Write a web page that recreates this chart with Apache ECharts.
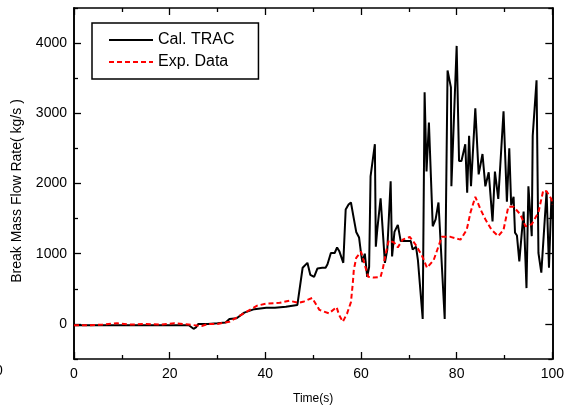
<!DOCTYPE html>
<html><head><meta charset="utf-8">
<script src="https://cdn.jsdelivr.net/npm/echarts@6/dist/echarts.min.js"></script>
<style>html,body{margin:0;padding:0;background:#fff}#c{width:567px;height:412px}</style>
</head><body><div id="c"></div>
<script>
const tracTime = [0,2,4,6,8,10,12,14,16,18,20,22,24,25,25.5,26,28,30,31.7,32.5,34,35.6,37.7,40.2,42,44.3,46.7,47.1,47.8,48.8,49.4,50.2,50.9,51.9,52.6,53,53.7,54.5,55,55.5,56.3,56.8,57.4,57.9,58.5,59,59.6,60,60.3,60.8,61.3,61.7,62,62.9,63.1,63.4,64.1,65,65.5,66.2,66.5,67,67.7,68.3,70.4,70.8,71.5,71.9,72.9,73.3,73.7,74.2,75,75.6,76.2,77.5,78.1,78.8,78.9,80,80.5,81,81.8,82.2,82.6,83,83.9,84.6,85.4,86,86.7,87.5,88,88.7,89.8,90.5,91,91.4,91.9,92.2,92.6,93.1,94,94.6,95,95.7,95.9,96.7,97.1,97.7,98.8,99.3,99.8,100];
const tracValues = [-20,-20,-20,-20,-20,-20,-20,-20,-20,-20,-20,-20,-20,-70,-50,0,0,10,20,70,80,160,210,230,230,245,270,280,800,870,700,670,790,800,800,850,1010,1010,1090,1030,870,1630,1700,1730,1500,1310,1230,1010,880,1000,670,810,2100,2560,1100,1340,1790,870,1060,2030,960,1310,1410,1180,1180,1060,1100,910,70,3300,2170,2870,1390,1490,1730,70,3610,3370,1960,3960,2320,2320,2560,1870,2680,1960,3070,2130,2420,1960,2160,1460,2170,1780,3030,1740,2500,1690,1810,1300,1260,890,1600,510,1960,1250,2680,3470,1010,730,1890,800,1780,1500];
const expTime = [0,3,6,9,12,15,18,21,24,26.7,28,30,32.5,34,36,38.3,40.2,43,45,47,48.1,49.8,51.3,53.3,54.9,55.4,56.2,57.1,57.9,58.3,58.5,59,60,60.8,61.5,62.7,64.1,64.6,65.2,65.8,66.9,67.7,68.7,70.2,71.4,72.7,73.8,75.2,76.9,78.7,80.8,82.1,82.9,83.9,85,86,87.3,88.7,89.8,90.8,91.9,93.3,94.4,95.7,97.1,98.1,98.8,99.8,100];
const expValues = [-20,-20,-10,10,-10,0,-10,10,-10,-30,0,0,30,90,170,260,290,300,330,300,320,370,200,150,240,130,30,150,310,590,770,940,1030,840,670,660,670,800,1010,1190,1160,1090,1200,1240,1130,980,800,910,1240,1240,1200,1340,1590,1810,1630,1490,1340,1250,1340,1670,1670,1560,1390,1420,1590,1900,1890,1780,1700];
const xTicks = {min:0, max:100, interval:20};
const yMajorTicks = [0,1000,2000,3000,4000];
const yMinorTicks = [-500,500,1500,2500,3500,4500];
const seriesNames = ['Cal. TRAC','Exp. Data'];
const xName = 'Time(s)';
const yName = 'Break Mass Flow Rate( kg/s )';

const FONT = "'Liberation Sans', Arial, sans-serif";
const chart = echarts.init(document.getElementById('c'), null, {renderer:'canvas'});
const axLine = {show:true, onZero:false, lineStyle:{color:'#000', width:1.6}};
function xAx(pos, labels){
  return {type:'value', position:pos, min:xTicks.min, max:xTicks.max, interval:xTicks.interval,
    axisLine:axLine, splitLine:{show:false},
    axisTick:{show:true, inside:true, length:7, lineStyle:{color:'#000', width:1.3}},
    minorTick:{show:true, splitNumber:2, length:4, lineStyle:{color:'#000', width:1.3}},
    axisLabel:{show:labels, color:'#000', fontSize:14, fontFamily:FONT, margin:8, formatter:v=>String(v)},
    name: labels ? xName : '', nameLocation:'middle', nameGap:34,
    nameTextStyle:{color:'#000', fontSize:12, fontFamily:FONT}};
}
function yAx(pos, vals, len, labels){
  return {type:'value', position:pos, min:-500, max:4500,
    axisLine:axLine, splitLine:{show:false},
    axisTick:{show:true, inside:true, length:len, customValues:vals, lineStyle:{color:'#000', width:1.3}},
    axisLabel:{show:labels, customValues:vals, color:'#000', fontSize:14, fontFamily:FONT, margin:7, formatter:v=>String(v)}};
}
chart.setOption({
  animation:false,
  backgroundColor:'#fff',
  grid:{left:74, right:13, top:8, bottom:53, containLabel:false},
  xAxis:[xAx('bottom', true), xAx('top', false)],
  yAxis:[
    yAx('left', yMajorTicks, 7, true),
    yAx('right', yMajorTicks, 7, false),
    yAx('left', yMinorTicks, 4, false),
    yAx('right', yMinorTicks, 4, false)
  ],
  legend:{left:92, top:23, orient:'vertical', itemWidth:44, itemHeight:14, itemGap:4,
    borderColor:'#000', borderWidth:1.5, padding:[8,24,8,16], backgroundColor:'#fff',
    itemStyle:{opacity:0},
    textStyle:{color:'#000', fontSize:16, fontFamily:FONT, lineHeight:18},
    data:seriesNames},
  graphic:[
    {type:'text', left:-5, top:364, style:{text:'0', fill:'#000', font:'14px '+FONT}},
    {type:'text', x:17, y:191, rotation:Math.PI/2,
     style:{text:yName, fill:'#000', font:'14px '+FONT, textAlign:'center', textVerticalAlign:'middle'}}
  ],
  series:[
    {name:seriesNames[0], type:'line', xAxisIndex:0, yAxisIndex:0, symbol:'none',
     lineStyle:{color:'#000', width:2}, itemStyle:{color:'#000'},
     data: tracTime.map((t,i)=>[t, tracValues[i]])},
    {name:seriesNames[1], type:'line', xAxisIndex:0, yAxisIndex:0, symbol:'none',
     lineStyle:{color:'#ff0000', width:2, type:[5,3]}, itemStyle:{color:'#ff0000'},
     data: expTime.map((t,i)=>[t, expValues[i]])}
  ]
});
</script></body></html>
